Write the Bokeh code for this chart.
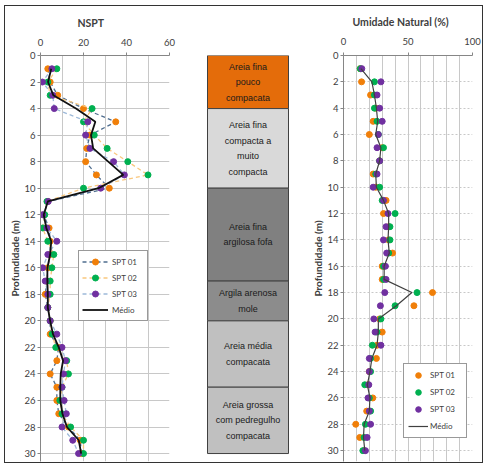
from bokeh.plotting import figure
from bokeh.layouts import row
from bokeh.models import Range1d, FixedTicker, Legend, LegendItem
from bokeh.core.properties import value
from bokeh.embed import file_html
from bokeh.resources import INLINE

# ---------------- data ----------------
depth = list(range(1, 31))

nspt_spt01 = [3.4, 4.5, 8, 20, 35, 23, 21.5, 21, 26, 32, 3.4, 1.5, 4, 4.5, 4.5, 3.4, 3, 2.2, 3.4, 4.5,
              4.5, 8.4, 7.6, 4.5, 7.6, 7.6, 8.5, 13, 18.5, 19]
nspt_spt02 = [7.6, 3.4, 4.5, 24, 20, 25, 31, 40.6, 50, 20, 3, 2, 1, 3.4, 6.2, 5.3, 4.5, 4.5, 3.4, 4.5,
              5.4, 7.1, 12.2, 13, 10, 9, 10, 14, 20, 20]
nspt_spt03 = [5.3, 0.9, 5.7, 6.4, 22, 21, 23, 34, 39, 28, 3.6, 1, 3, 7.6, 3.4, 1, 2.2, 3.4, 3.4, 4.5,
              7.6, 10, 11.6, 10.7, 10, 11, 12, 10, 15, 17.7]
nspt_medio = [5, 3.5, 6, 16.5, 25.5, 23.5, 24.5, 31.5, 38.5, 27, 3.4, 1.5, 2.7, 5, 4.5, 3.2, 3.2, 3.4, 3.4, 4.5,
              5.8, 8.5, 10.5, 9.4, 9.2, 9.2, 10.2, 12.3, 17.8, 18.9]

umid_spt01 = [13, 14, 21, 25, 23, 20, 30, 28, 23, 25, 33, 31, 35, 35, 38, 30, 30, 69, 54.6, 28,
              30, 26, 25.5, 20, 19, 22.7, 18, 9.5, 12.6, 16]
umid_spt02 = [13, 24, 24, 24, 26, 27, 31, 28, 25, 28, 30, 40, 36, 36, 35, 31, 31, 57, 40, 29,
              26, 22.4, 21, 21, 16.5, 20, 21, 17, 16, 15]
umid_spt03 = [14.2, 29, 26, 28, 30, 27, 26, 28, 26, 23, 31, 34.5, 33, 31, 33.5, 32.5, 33, 32, 28.6, 23.5,
              24.5, 29, 20, 20, 19.6, 19, 20, 21, 18.3, 17]
umid_medio = [13.5, 22, 24, 25.5, 26.5, 25, 29, 28, 25, 25.5, 31, 35, 35, 34.5, 35.5, 31.5, 31.5, 53, 41, 27,
              27, 26, 22, 20.5, 18.5, 20.5, 20, 16, 15.5, 16.5]

layer_top = [0, 4, 10, 17, 20, 25]
layer_bottom = [4, 10, 17, 20, 25, 30]
layer_names = ["Areia fina\npouco\ncompacata",
               "Areia fina\ncompacta a\nmuito\ncompacta",
               "Areia fina\nargilosa fofa",
               "Argila arenosa\nmole",
               "Areia média\ncompacata",
               "Areia grossa\ncom pedregulho\ncompacata"]
layer_colors = ["#E46C0A", "#D9D9D9", "#808080", "#8C8C8C", "#C0C0C0", "#C0C0C0"]

nspt_ticks = [0, 20, 40, 60]
umid_ticks = [0, 50, 100]
depth_ticks = list(range(0, 31, 2))

series_names = ["SPT 01", "SPT 02", "SPT 03"]
marker_colors = ["#F07F09", "#00B050", "#7030A0"]
dash_colors = ["#4F6D8F", "#F9C77E", "#9DB9D9"]

FONT = "Lato"
GRID = "#C8C8C8"
AX = "#868686"
TXT = "#404040"

PX_PER_M = 400 / 30
H = 456          # content height inside the outer border (y 6 .. 462)
BOT = 1


def style_axes(p, title_offset, label_standoff):
    p.title.align = "left"
    p.title.offset = title_offset
    p.title.text_font = FONT
    p.title.text_font_size = "10.5px"
    p.title.text_font_style = "bold"
    p.title.text_color = TXT
    p.title.standoff = 14
    for ax in p.xaxis + p.yaxis:
        ax.axis_line_color = AX
        ax.major_tick_line_color = AX
        ax.minor_tick_line_color = None
        ax.major_tick_out = 3
        ax.major_tick_in = 0
        ax.major_label_text_font = FONT
        ax.major_label_text_font_size = "9.5px"
        ax.major_label_text_color = TXT
    p.xaxis.major_label_standoff = label_standoff
    p.yaxis.major_label_standoff = 2
    p.yaxis.axis_label = "Profundidade (m)"
    p.yaxis.axis_label_text_font = FONT
    p.yaxis.axis_label_text_font_size = "10px"
    p.yaxis.axis_label_text_font_style = "bold"
    p.yaxis.axis_label_text_color = TXT
    p.yaxis.axis_label_standoff = 0
    p.xgrid.grid_line_color = GRID
    p.xgrid.minor_grid_line_color = GRID
    p.ygrid.grid_line_color = GRID
    p.outline_line_color = None
    p.background_fill_color = "white"
    p.border_fill_color = "white"


# ---------------- left: NSPT ----------------
top_l = 47
pl = figure(width=193, height=H, output_backend="svg", toolbar_location=None,
            x_range=Range1d(0, 60), y_range=Range1d((H - top_l - BOT) / PX_PER_M, 0),
            x_axis_location="above", title="NSPT",
            min_border_left=35, min_border_right=29, min_border_top=top_l, min_border_bottom=BOT)
pl.xaxis.ticker = FixedTicker(ticks=nspt_ticks, minor_ticks=[10, 30, 50])
pl.yaxis.ticker = FixedTicker(ticks=depth_ticks)
style_axes(pl, 37, 6)

items_l = []
for vals, name, mc, dc in zip([nspt_spt01, nspt_spt02, nspt_spt03], series_names, marker_colors, dash_colors):
    ln = pl.line(vals, depth, line_color=dc, line_width=1.3, line_dash="4 3")
    sc = pl.scatter(vals, depth, size=6, fill_color=mc, line_color=mc)
    items_l.append(LegendItem(label=name, renderers=[ln, sc]))
lm = pl.line(nspt_medio, depth, line_color="#111111", line_width=1.8)
items_l.append(LegendItem(label="Médio", renderers=[lm]))
leg_l = Legend(items=items_l, location=(38, 140), border_line_color="#333333", border_line_width=1.5,
               label_text_font=FONT, label_text_font_size="8px", label_text_color=TXT,
               glyph_width=26, glyph_height=15, label_height=15, label_width=32, spacing=1, padding=3,
               label_standoff=4, background_fill_alpha=1)
pl.add_layout(leg_l)

# ---------------- middle: soil column ----------------
pm = figure(width=101, height=H, output_backend="svg", toolbar_location=None,
            x_range=Range1d(-9 / 81, 1 + 11 / 81), y_range=Range1d((H - top_l - BOT) / PX_PER_M, 0),
            min_border_left=0, min_border_right=0, min_border_top=top_l, min_border_bottom=BOT)
pm.axis.visible = False
pm.grid.visible = False
pm.outline_line_color = None
pm.border_fill_color = "white"
pm.quad(left=0, right=1, top=layer_top, bottom=layer_bottom, fill_color=layer_colors,
        line_color="#404040", line_width=1)
mid = [(a + b) / 2 for a, b in zip(layer_top, layer_bottom)]
pm.text(x=[0.5] * len(mid), y=mid, text=layer_names, text_align="center", text_baseline="middle",
        text_font=value("Liberation Sans"), text_font_size="9px", text_color="#1a1a1a",
        text_line_height=1.55)

# ---------------- right: Umidade ----------------
top_r = 44
pr = figure(width=183, height=H, output_backend="svg", toolbar_location=None,
            x_range=Range1d(0, 100), y_range=Range1d((H - top_r - BOT) / PX_PER_M, 0),
            x_axis_location="above", title="Umidade Natural (%)",
            min_border_left=44, min_border_right=10, min_border_top=top_r, min_border_bottom=BOT)
pr.xaxis.ticker = FixedTicker(ticks=umid_ticks, minor_ticks=[10, 20, 30, 40, 60, 70, 80, 90])
pr.yaxis.ticker = FixedTicker(ticks=depth_ticks)
style_axes(pr, 9, 7)
pr.ygrid.grid_line_dash = "2 2"

items_r = []
for vals, name, mc in zip([umid_spt01, umid_spt02, umid_spt03], series_names, marker_colors):
    sc = pr.scatter(vals, depth, size=6, fill_color=mc, line_color=mc)
    items_r.append(LegendItem(label=name, renderers=[sc]))
rm = pr.line(umid_medio, depth, line_color="#404040", line_width=1.2)
items_r.append(LegendItem(label="Médio", renderers=[rm]))
leg_r = Legend(items=items_r, location=(60, 23), border_line_color="#333333", border_line_width=1.5,
               label_text_font=FONT, label_text_font_size="8px", label_text_color=TXT,
               glyph_width=20, glyph_height=14, label_height=14, label_width=32, spacing=3, padding=4,
               label_standoff=2, background_fill_alpha=1)
pr.add_layout(leg_r)

layout = row(pl, pm, pr, margin=(5, 0, 0, 4), styles={"border": "1px solid #333333"})
open("out.html", "w").write(file_html(layout, INLINE))
